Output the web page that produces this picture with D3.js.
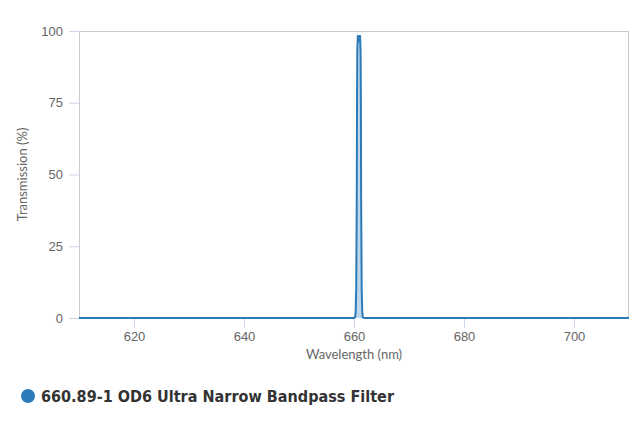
<!DOCTYPE html>
<html>
<head>
<meta charset="utf-8">
<script src="https://cdn.jsdelivr.net/npm/d3@7"></script>
<style>
  body { margin: 0; background: #fff; }
  svg { font-family: Lato, "Open Sans", "DejaVu Sans", sans-serif; }
</style>
</head>
<body>
<div id="chart"></div>
<script>
// chart size
var svgWidth = 640;
var svgHeight = 427;

var margin = { top: 31, right: 11, bottom: 109, left: 79 };
var chartWidth = svgWidth - margin.left - margin.right;
var chartHeight = svgHeight - margin.top - margin.bottom;

// data
var seriesName = "660.89-1 OD6 Ultra Narrow Bandpass Filter";
var wavelength = [610, 650, 660, 660.2, 660.3, 660.4, 660.5, 660.55, 660.6, 660.7, 660.8, 660.9,
                  661.0, 661.1, 661.2, 661.25, 661.3, 661.4, 661.5, 661.6, 661.8, 670, 710];
var transmission = [0, 0, 0, 0.3, 2, 10, 40, 75, 93, 98.5, 97.5, 97,
                    97.5, 98.5, 93, 75, 40, 10, 2, 0.3, 0, 0, 0];
var xTicks = [620, 640, 660, 680, 700];
var yTicks = [0, 25, 50, 75, 100];

var data = wavelength.map(function(w, i) { return { w: w, t: transmission[i] }; });

var svg = d3.select("#chart")
  .append("svg")
  .attr("width", svgWidth)
  .attr("height", svgHeight);

var chartGroup = svg.append("g")
  .attr("transform", `translate(${margin.left}, ${margin.top})`);

var x = d3.scaleLinear().domain([610, 710]).range([0, chartWidth]);
var y = d3.scaleLinear().domain([0, 100]).range([chartHeight, 0]);

// plot frame (left, top, right)
chartGroup.append("path")
  .attr("d", `M0.5,${chartHeight} V0.5 H${chartWidth - 0.5} V${chartHeight}`)
  .attr("fill", "none")
  .attr("stroke", "#cccccc")
  .attr("stroke-width", 1);

// x axis
var xAxis = chartGroup.append("g")
  .attr("transform", `translate(0, ${chartHeight})`)
  .call(d3.axisBottom(x).tickValues(xTicks).tickSize(10).tickPadding(4));
xAxis.select(".domain").remove();
xAxis.selectAll("line").attr("stroke", "#ccd6eb");
xAxis.selectAll("text").attr("fill", "#666").style("font-size", "13px");

// y axis
var yAxis = chartGroup.append("g")
  .call(d3.axisLeft(y).tickValues(yTicks).tickSize(10).tickPadding(6));
yAxis.select(".domain").remove();
yAxis.selectAll("line").attr("stroke", "#ccd6eb");
yAxis.selectAll("text").attr("fill", "#666").style("font-size", "13px");

// axis titles
chartGroup.append("text")
  .attr("x", chartWidth / 2)
  .attr("y", chartHeight + 41)
  .attr("text-anchor", "middle")
  .attr("fill", "#666")
  .style("font-size", "13px")
  .text("Wavelength (nm)");

chartGroup.append("text")
  .attr("transform", `translate(${27 - margin.left}, ${chartHeight / 2}) rotate(-90)`)
  .attr("text-anchor", "middle")
  .attr("fill", "#666")
  .style("font-size", "13px")
  .text("Transmission (%)");

// area + line
var area = d3.area()
  .x(d => x(d.w))
  .y0(y(0))
  .y1(d => y(d.t));

var line = d3.line()
  .x(d => x(d.w))
  .y(d => y(d.t));

chartGroup.append("path")
  .datum(data)
  .attr("d", area)
  .attr("fill", "#2b7bb9")
  .attr("fill-opacity", 0.3);

chartGroup.append("path")
  .datum(data)
  .attr("d", line)
  .attr("fill", "none")
  .attr("stroke", "#2b7bb9")
  .attr("stroke-width", 2);

// legend
var legend = svg.append("g").attr("transform", "translate(28, 396)");
legend.append("circle")
  .attr("r", 7)
  .attr("fill", "#2b7bb9");
legend.append("text")
  .attr("x", 13)
  .attr("y", 6)
  .attr("fill", "#333")
  .style("font-family", "\"DejaVu Sans\", sans-serif")
  .style("font-size", "15px")
  .style("font-weight", "bold")
  .attr("textLength", 353)
  .attr("lengthAdjust", "spacingAndGlyphs")
  .text(seriesName);
</script>
</body>
</html>
